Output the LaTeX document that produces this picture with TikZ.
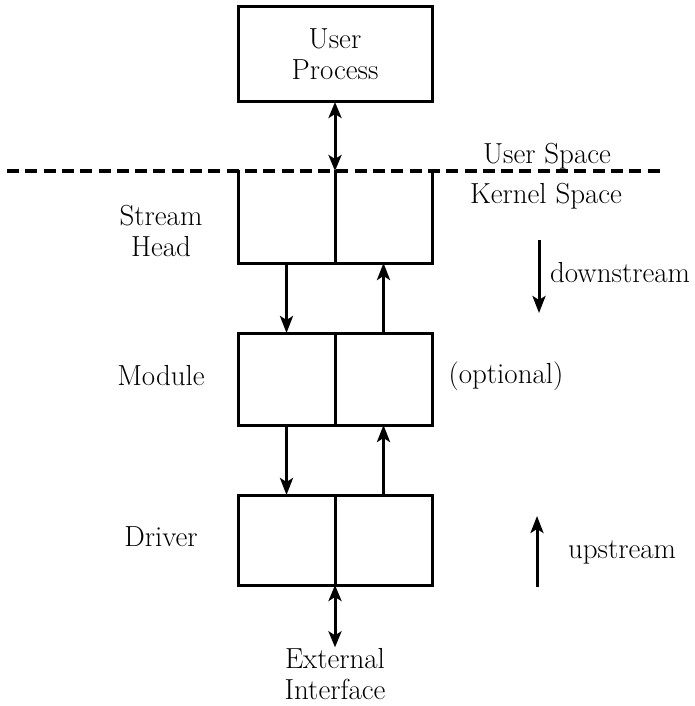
\documentclass[tikz,border=0pt]{standalone}
\usetikzlibrary{arrows.meta,calc}
\begin{document}
\begin{tikzpicture}[x=1pt,y=-1pt,
  lbl/.style={font=\fontsize{29}{31}\selectfont, inner sep=0pt, outer sep=0pt},
  mlbl/.style={lbl, align=center},
  boxshape/.style={rectangle, minimum width=194pt, inner sep=0pt, outer sep=0pt},
  boxline/.style={line width=3pt, line cap=rect},
  flow/.style={line width=3pt, -{Stealth[length=17pt,width=13pt,inset=4pt]}},
  bothflow/.style={line width=3pt, {Stealth[length=16pt,width=13pt,inset=4pt]}-{Stealth[length=16pt,width=13pt,inset=4pt]}},
  border/.style={line width=3.2pt, dash pattern=on 12pt off 6.3pt}]
\useasboundingbox (0,0) rectangle (695,706);

% boxes
\node[boxshape, draw, line width=3pt, minimum height=95pt] (up) at (335,54.5) {};
\node[mlbl] (uptext) at (335,54) {User\\Process};
\node[boxshape, minimum height=92pt] (sh) at (335,217) {};
\node[boxshape, draw, line width=3pt, minimum height=92pt] (mod) at (335,379) {};
\node[boxshape, draw, line width=3pt, minimum height=90pt] (drv) at (335,540) {};

% user/kernel border
\coordinate (bl) at (7,171);
\coordinate (br) at (664,171);
\draw[border] (bl) -- (br);

% stream head open box and dividers
\draw[boxline] (sh.north west) -- (sh.south west) -- (sh.south east) -- (sh.north east);
\draw[boxline] (sh.north) -- (sh.south);
\draw[boxline] (mod.north) -- (mod.south);
\draw[boxline] (drv.north) -- (drv.south);

% messages
\draw[bothflow] (up.south) -- (sh.north);
\draw[flow] ($(sh.south west)!0.25!(sh.south east)$) -- ($(mod.north west)!0.25!(mod.north east)$);
\draw[flow] ($(mod.north west)!0.75!(mod.north east)$) -- ($(sh.south west)!0.75!(sh.south east)$);
\draw[flow] ($(mod.south west)!0.25!(mod.south east)$) -- ($(drv.north west)!0.25!(drv.north east)$);
\draw[flow] ($(drv.north west)!0.75!(drv.north east)$) -- ($(mod.south west)!0.75!(mod.south east)$);

\node[mlbl, inner sep=1pt] (ext) at (335,674) {External\\Interface};
\draw[bothflow] (drv.south) -- (ext.north);

% left labels
\node[mlbl] (shl) at (161,231) {Stream\\Head};
\node[lbl, anchor=base] (modl) at (161,385) {Module};
\node[lbl, anchor=base] (drvl) at (161,546) {Driver};

% right labels
\node[lbl, anchor=base] (us) at (547,163) {User Space};
\node[lbl, anchor=base] (ks) at (546,203) {Kernel Space};
\node[lbl, anchor=base] (opt) at (506,383) {(optional)};

\coordinate (ds1) at (539,240);
\coordinate (ds2) at (539,313);
\draw[flow] (ds1) -- (ds2);
\node[lbl, anchor=base west] (dst) at (550,282) {downstream};

\coordinate (up1) at (537,587);
\coordinate (up2) at (537,516);
\draw[flow] (up1) -- (up2);
\node[lbl, anchor=base west] (ust) at (568,558) {upstream};
\end{tikzpicture}
\end{document}
